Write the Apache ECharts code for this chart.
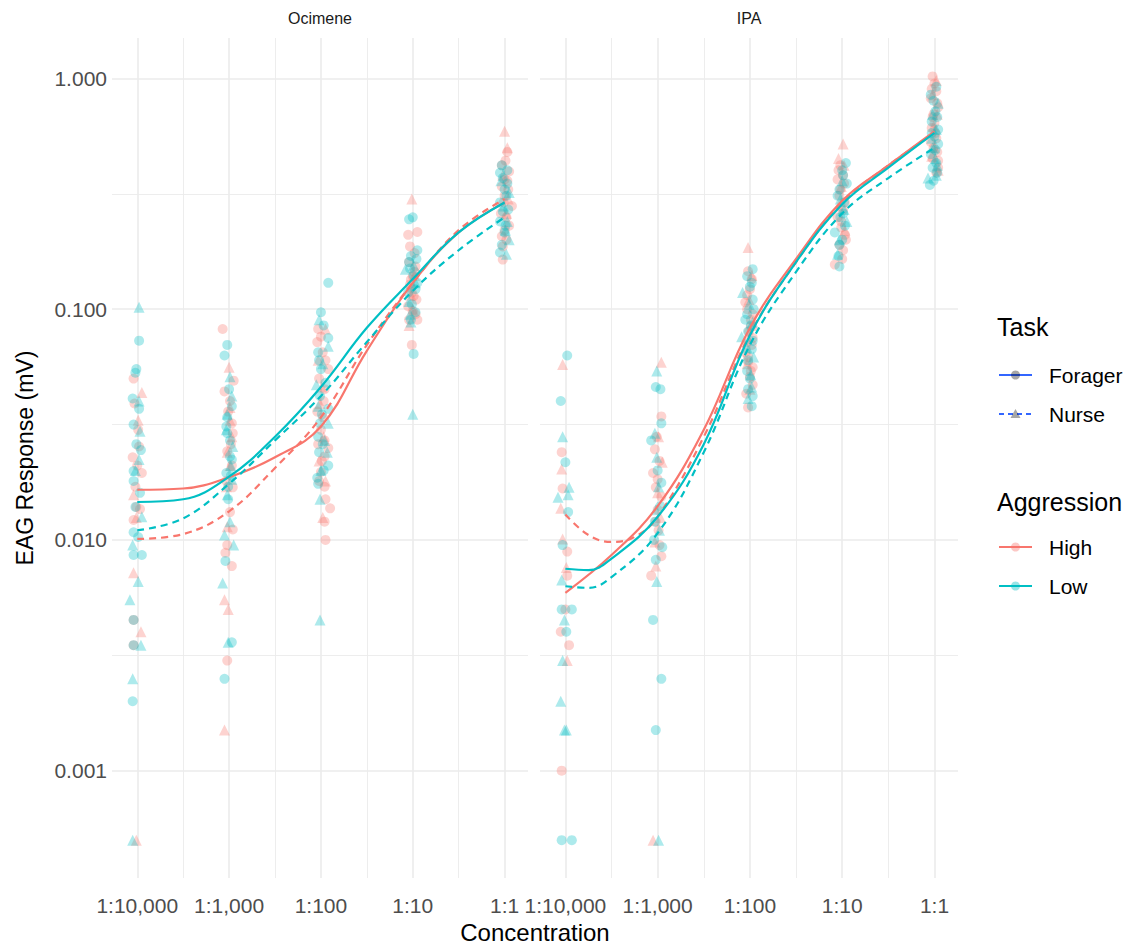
<!DOCTYPE html>
<html><head><meta charset="utf-8">
<script src="https://cdn.jsdelivr.net/npm/echarts@6/dist/echarts.min.js"></script>
<style>html,body{margin:0;padding:0;background:#fff}#c{width:1144px;height:946px}</style>
</head><body><div id="c"></div>
<script>
// ---- data ----
const CONC_LOG = [-4, -3, -2, -1, 0];
const CONC_LABELS = ['1:10,000', '1:1,000', '1:100', '1:10', '1:1'];
const CONC_MINOR = [-3.5, -2.5, -1.5, -0.5];
const Y_TICKS = [0.001, 0.01, 0.1, 1];
const Y_MINOR = [0.00316, 0.0316, 0.316];
const PANELS = ['Ocimene', 'IPA'];

// points: [log10 concentration (jittered), EAG response mV]
const ocHF = [[-4.04,0.050],[-4.03,0.039],[-3.98,0.0254],[-4.05,0.0228],[-4.00,0.021],[-3.95,0.0195],[-4.01,0.0139],[-3.97,0.0136],[-4.04,0.0122],[-4.04,0.0045],[-4.04,0.0035],[-3.99,0.03],[-4.02,0.017],
[-3.07,0.082],[-2.95,0.049],[-3.05,0.044],[-2.97,0.032],[-2.96,0.029],[-3.02,0.0242],[-2.96,0.0169],[-2.99,0.0132],[-2.96,0.0111],[-3.02,0.0095],[-3.04,0.0088],[-2.97,0.0077],[-3.02,0.0030],[-2.99,0.040],[-2.98,0.026],[-3.01,0.036],[-2.97,0.021],[-3.03,0.018],
[-2.03,0.082],[-2.00,0.076],[-2.04,0.072],[-1.95,0.060],[-1.92,0.055],[-1.96,0.045],[-1.98,0.034],[-2.00,0.030],[-1.96,0.027],[-2.03,0.026],[-1.92,0.025],[-1.96,0.023],[-2.00,0.0197],[-1.96,0.017],[-1.95,0.015],[-1.90,0.0137],[-1.96,0.012],[-1.95,0.010],[-1.98,0.065],[-2.02,0.05],[-1.97,0.04],[-2.04,0.036],[-1.99,0.022],[-2.02,0.018],
[-1.05,0.21],[-0.95,0.216],[-1.03,0.187],[-0.97,0.153],[-1.00,0.139],[-1.02,0.124],[-0.99,0.114],[-1.05,0.103],[-0.95,0.090],[-1.04,0.090],[-1.01,0.070],[-1.02,0.134],[-0.98,0.145],[-1.03,0.128],[-0.96,0.11],[-1.00,0.098],[-1.04,0.16],[-0.98,0.175],[-1.01,0.118],[-0.97,0.095],
[0.03,0.48],[0.05,0.395],[0.00,0.365],[-0.03,0.34],[0.00,0.31],[0.08,0.28],[0.02,0.25],[0.05,0.23],[-0.03,0.207],[-0.02,0.187],[-0.02,0.164],[0.01,0.44],[-0.04,0.26],[0.04,0.33],[0.02,0.20],[-0.01,0.29],[0.03,0.36],[0.00,0.22],[-0.03,0.42]];
const ocHN = [[-3.95,0.0435],[-3.99,0.033],[-4.04,0.0157],[-4.04,0.0072],[-3.96,0.0040],[-4.01,0.0005],[-4.01,0.0125],
[-3.00,0.056],[-2.99,0.0375],[-2.99,0.021],[-3.02,0.0114],[-3.05,0.0055],[-3.01,0.0050],[-3.05,0.0015],[-2.97,0.028],[-3.03,0.017],[-2.99,0.033],[-3.02,0.024],
[-1.95,0.082],[-2.01,0.039],[-1.95,0.018],[-1.98,0.0125],[-2.03,0.06],[-1.99,0.046],[-1.97,0.028],[-2.02,0.022],
[-1.01,0.30],[-1.00,0.10],[-1.02,0.115],[-0.98,0.14],[-1.04,0.085],
[0.00,0.59],[0.03,0.50],[0.04,0.30],[-0.02,0.38],[0.02,0.26]];
const ocLF = [[-3.98,0.073],[-4.01,0.055],[-4.02,0.053],[-4.05,0.041],[-4.04,0.0316],[-3.96,0.0245],[-4.04,0.0199],[-4.04,0.018],[-4.02,0.0139],[-4.04,0.0108],[-3.99,0.0103],[-4.04,0.0086],[-3.95,0.0086],[-4.04,0.0045],[-4.04,0.0035],[-4.05,0.0020],[-3.98,0.037],[-4.01,0.026],[-3.97,0.016],
[-3.02,0.070],[-3.05,0.063],[-3.02,0.034],[-3.03,0.031],[-2.99,0.027],[-2.97,0.0223],[-3.03,0.0195],[-3.01,0.015],[-3.04,0.0081],[-2.97,0.0036],[-3.05,0.0025],[-3.00,0.045],[-2.98,0.019],[-2.97,0.038],[-3.02,0.029],[-2.99,0.023],[-3.01,0.017],
[-1.92,0.13],[-2.00,0.097],[-1.92,0.075],[-2.03,0.065],[-2.00,0.055],[-2.01,0.042],[-1.92,0.037],[-2.01,0.032],[-2.03,0.028],[-1.98,0.026],[-1.92,0.021],[-2.04,0.0186],[-2.03,0.0175],[-1.97,0.085],[-2.02,0.06],[-1.95,0.048],[-1.99,0.035],[-2.02,0.024],[-1.97,0.02],
[-1.00,0.25],[-1.04,0.245],[-0.95,0.18],[-1.04,0.16],[-0.95,0.13],[-1.05,0.118],[-0.97,0.097],[-0.99,0.064],[-1.02,0.17],[-0.99,0.14],[-1.03,0.15],[-0.97,0.122],[-1.01,0.105],[-0.96,0.165],[-1.02,0.09],
[-0.03,0.42],[-0.05,0.39],[0.03,0.35],[-0.05,0.29],[-0.02,0.265],[-0.05,0.24],[0.00,0.215],[-0.05,0.176],[0.02,0.31],[-0.02,0.37],[0.04,0.27],[0.01,0.23],[-0.03,0.19],[0.03,0.40],[0.00,0.33]];
const ocLN = [[-3.98,0.102],[-3.97,0.0296],[-3.98,0.0223],[-3.95,0.0126],[-4.05,0.0095],[-3.99,0.0066],[-4.08,0.0055],[-3.96,0.0035],[-4.05,0.0025],[-4.05,0.0005],[-4.02,0.02],[-3.98,0.04],
[-2.99,0.051],[-2.97,0.042],[-2.96,0.0254],[-2.97,0.0183],[-3.02,0.0157],[-3.05,0.0105],[-2.95,0.0095],[-3.07,0.0065],[-3.01,0.0036],[-3.02,0.035],[-2.99,0.012],[-3.03,0.03],[-2.98,0.021],
[-2.02,0.090],[-1.92,0.069],[-2.05,0.047],[-1.92,0.032],[-1.93,0.024],[-2.01,0.015],[-2.01,0.0045],[-1.98,0.058],[-2.03,0.038],[-1.96,0.027],[-2.00,0.02],
[-1.08,0.149],[-1.04,0.108],[-1.02,0.088],[-1.00,0.035],[-0.97,0.13],[-1.03,0.095],[-0.99,0.155],
[0.05,0.32],[0.05,0.20],[0.02,0.173],[-0.01,0.28],[0.03,0.24],[-0.04,0.36],[0.01,0.22]];
const ipHF = [[-4.04,0.024],[-4.03,0.0167],[-3.98,0.0089],[-3.98,0.0070],[-4.00,0.0050],[-4.05,0.0040],[-3.96,0.0035],[-4.04,0.0010],
[-2.96,0.0343],[-3.03,0.0247],[-3.05,0.0195],[-3.00,0.0183],[-3.02,0.0169],[-2.96,0.0154],[-3.00,0.0135],[-2.98,0.0095],[-2.96,0.0085],[-3.07,0.0070],[-3.01,0.028],[-2.98,0.022],[-3.02,0.012],[-2.99,0.011],
[-2.02,0.146],[-2.00,0.122],[-2.05,0.107],[-1.97,0.095],[-1.99,0.084],[-1.97,0.075],[-2.05,0.065],[-2.02,0.059],[-1.97,0.056],[-2.00,0.051],[-2.02,0.0375],[-2.03,0.10],[-2.03,0.072],[-1.98,0.135],[-2.03,0.115],[-1.99,0.09],[-2.01,0.08],[-1.98,0.07],[-2.02,0.062],[-1.97,0.047],[-2.04,0.043],[-1.99,0.054],
[-1.04,0.40],[-1.05,0.365],[-1.02,0.33],[-0.97,0.29],[-1.05,0.25],[-1.01,0.226],[-0.96,0.20],[-0.99,0.18],[-1.08,0.156],[-0.99,0.38],[-1.02,0.42],[-0.98,0.35],[-1.03,0.31],[-0.99,0.27],[-1.01,0.24],[-0.97,0.21],[-1.03,0.19],[-1.00,0.165],
[-0.02,1.02],[0.02,0.88],[-0.04,0.82],[0.04,0.75],[-0.01,0.70],[0.01,0.58],[-0.04,0.53],[0.03,0.48],[-0.02,0.45],[0.04,0.41],[0.02,0.39],[-0.02,0.68],[0.00,0.95],[-0.03,0.90],[0.03,0.78],[0.00,0.64],[-0.03,0.61],[0.02,0.55],[-0.01,0.50],[0.04,0.44]];
const ipHN = [[-4.03,0.0575],[-4.04,0.0203],[-4.05,0.0137],[-4.03,0.0101],[-3.99,0.0076],[-3.98,0.0030],
[-2.96,0.0588],[-2.99,0.028],[-2.95,0.0217],[-3.02,0.0077],[-3.05,0.0005],[-3.00,0.016],[-2.97,0.0125],[-3.03,0.0098],
[-2.02,0.185],[-1.98,0.14],[-2.01,0.11],[-1.96,0.085],[-2.03,0.058],[-2.00,0.045],
[-0.99,0.52],[-1.04,0.45],[-1.04,0.28],[-0.98,0.42],[-1.01,0.34],[-0.97,0.22],
[0.02,0.98],[-0.01,0.62],[0.04,0.40],[-0.02,0.85],[0.03,0.70],[0.00,0.50],[-0.03,0.46]];
const ipLF = [[-3.98,0.063],[-4.05,0.040],[-4.00,0.0217],[-3.97,0.0132],[-4.03,0.0095],[-4.04,0.0050],[-3.93,0.0050],[-3.99,0.0040],[-4.04,0.0005],[-3.93,0.0005],
[-3.02,0.046],[-2.97,0.045],[-2.96,0.032],[-3.07,0.027],[-2.96,0.0177],[-3.04,0.010],[-2.95,0.0093],[-3.02,0.0082],[-3.05,0.0045],[-2.96,0.0025],[-3.02,0.0015],[-3.00,0.02],[-2.97,0.014],[-3.03,0.012],
[-1.97,0.149],[-2.03,0.139],[-1.97,0.11],[-2.05,0.09],[-2.02,0.080],[-1.98,0.067],[-2.03,0.054],[-2.02,0.045],[-1.98,0.038],[-1.98,0.13],[-2.00,0.125],[-1.96,0.10],[-2.03,0.095],[-1.99,0.085],[-1.97,0.073],[-2.02,0.06],[-2.00,0.05],[-1.97,0.042],
[-0.96,0.43],[-0.95,0.35],[-1.05,0.31],[-0.99,0.26],[-1.08,0.215],[-1.03,0.19],[-1.03,0.153],[-0.99,0.38],[-1.00,0.40],[-1.03,0.33],[-0.98,0.29],[-1.02,0.25],[-0.97,0.23],[-1.00,0.20],[-1.04,0.17],
[-0.04,0.85],[0.01,0.72],[-0.03,0.65],[0.04,0.60],[0.00,0.56],[-0.04,0.47],[0.02,0.43],[-0.01,0.36],[-0.05,0.345],[0.04,0.52],[0.02,0.92],[-0.01,0.80],[0.03,0.68],[-0.03,0.58],[0.01,0.49],[-0.02,0.41],[0.03,0.39]];
const ipLN = [[-4.03,0.028],[-3.96,0.0169],[-3.97,0.0157],[-4.08,0.0153],[-4.04,0.0067],[-4.01,0.0045],[-4.03,0.0030],[-4.05,0.0020],[-3.99,0.0015],[-4.01,0.0015],
[-3.01,0.054],[-3.03,0.029],[-3.01,0.0228],[-2.98,0.011],[-3.01,0.0066],[-2.99,0.0005],[-2.99,0.017],[-3.02,0.0135],
[-2.08,0.118],[-2.09,0.076],[-1.96,0.062],[-1.98,0.046],[-2.01,0.105],[-1.97,0.088],[-2.03,0.068],[-1.99,0.052],[-2.02,0.041],
[-0.95,0.24],[-1.05,0.173],[-1.00,0.36],[-1.02,0.30],[-0.98,0.27],[-1.03,0.20],
[0.04,0.78],[-0.02,0.50],[-0.07,0.37],[0.02,0.38],[-0.02,0.70],[0.02,0.60],[-0.03,0.55],[0.01,0.45],[0.03,0.42]];

// smooth fits: [log10 concentration, fitted response]
const ocFitHF = [[-4,0.0165],[-3.5,0.0167],[-3,0.0187],[-2.5,0.0228],[-2,0.031],[-1.5,0.066],[-1,0.13],[-0.5,0.215],[0,0.29]];
const ocFitHN = [[-4,0.0101],[-3.5,0.0106],[-3,0.0133],[-2.5,0.0205],[-2,0.034],[-1.5,0.07],[-1,0.13],[-0.5,0.22],[0,0.30]];
const ocFitLF = [[-4,0.0146],[-3.5,0.015],[-3,0.0188],[-2.5,0.028],[-2,0.046],[-1.5,0.083],[-1,0.135],[-0.5,0.215],[0,0.29]];
const ocFitLN = [[-4,0.011],[-3.5,0.0124],[-3,0.0175],[-2.5,0.027],[-2,0.042],[-1.5,0.072],[-1,0.12],[-0.5,0.18],[0,0.25]];
const ipFitHF = [[-4,0.0059],[-3.5,0.0086],[-3,0.014],[-2.5,0.030],[-2,0.083],[-1.5,0.165],[-1,0.295],[-0.5,0.42],[0,0.59]];
const ipFitHN = [[-4,0.0129],[-3.75,0.0105],[-3.5,0.0098],[-3.25,0.0103],[-3,0.0126],[-2.5,0.028],[-2,0.078],[-1.5,0.16],[-1,0.29],[-0.5,0.42],[0,0.58]];
const ipFitLF = [[-4,0.0075],[-3.75,0.0074],[-3.5,0.0083],[-3,0.0126],[-2.5,0.026],[-2,0.077],[-1.5,0.16],[-1,0.285],[-0.5,0.41],[0,0.58]];
const ipFitLN = [[-4,0.0063],[-3.75,0.0062],[-3.5,0.0069],[-3,0.0107],[-2.5,0.024],[-2,0.07],[-1.5,0.145],[-1,0.26],[-0.5,0.37],[0,0.50]];

// ---- chart ----
const HIGH = '#F8766D', LOW = '#00BFC4', TASKC = '#3366FF';
const FONT = '"Liberation Sans", Arial, sans-serif';
const GRID_C = '#EBEBEB';
const X_MIN = -4.275, X_MAX = 0.255;
const Y_MIN = Math.pow(10, -3.465), Y_MAX = Math.pow(10, 0.175);

function rgba(hex, a) {
  const n = parseInt(hex.slice(1), 16);
  return 'rgba(' + (n >> 16) + ',' + ((n >> 8) & 255) + ',' + (n & 255) + ',' + a + ')';
}

const grids = [
  {left: 112, top: 38, width: 416, height: 840},
  {left: 540, top: 38, width: 418, height: 840}
];
const xAxes = [], yAxes = [];
[0, 1].forEach(g => {
  xAxes.push({
    type: 'value', gridIndex: g, min: X_MIN, max: X_MAX,
    axisLine: {show: false},
    axisTick: {show: false, customValues: CONC_LOG},
    axisLabel: {customValues: CONC_LOG, margin: 17, color: '#4d4d4d', fontSize: 21, fontFamily: FONT,
      formatter: v => CONC_LABELS[CONC_LOG.indexOf(Math.round(v))] || ''},
    splitLine: {show: true, lineStyle: {color: GRID_C, width: 1.6}}
  });
  xAxes.push({
    type: 'value', gridIndex: g, min: X_MIN, max: X_MAX,
    axisLine: {show: false},
    axisTick: {show: false, customValues: CONC_MINOR},
    axisLabel: {show: false, customValues: CONC_MINOR},
    splitLine: {show: true, lineStyle: {color: GRID_C, width: 0.9}}
  });
  yAxes.push({
    type: 'log', logBase: 10, gridIndex: g, min: Y_MIN, max: Y_MAX,
    axisLine: {show: false},
    axisTick: {show: false, customValues: Y_TICKS},
    axisLabel: {show: g === 0, customValues: Y_TICKS, margin: 5, color: '#4d4d4d', fontSize: 21, fontFamily: FONT,
      formatter: v => Number(v).toFixed(3)},
    splitLine: {show: true, lineStyle: {color: GRID_C, width: 1.6}}
  });
  yAxes.push({
    type: 'log', logBase: 10, gridIndex: g, min: Y_MIN, max: Y_MAX,
    axisLine: {show: false},
    axisTick: {show: false, customValues: Y_MINOR},
    axisLabel: {show: false, customValues: Y_MINOR},
    splitLine: {show: true, lineStyle: {color: GRID_C, width: 0.9}}
  });
});

const panelData = [
  {pts: [[ocHF, HIGH, 'circle'], [ocHN, HIGH, 'triangle'], [ocLF, LOW, 'circle'], [ocLN, LOW, 'triangle']],
   fits: [[ocFitHF, HIGH, false], [ocFitHN, HIGH, true], [ocFitLF, LOW, false], [ocFitLN, LOW, true]]},
  {pts: [[ipHF, HIGH, 'circle'], [ipHN, HIGH, 'triangle'], [ipLF, LOW, 'circle'], [ipLN, LOW, 'triangle']],
   fits: [[ipFitHF, HIGH, false], [ipFitHN, HIGH, true], [ipFitLF, LOW, false], [ipFitLN, LOW, true]]}
];
const series = [];
panelData.forEach((p, g) => {
  p.pts.forEach(([data, col, sym]) => {
    series.push({
      type: 'scatter', xAxisIndex: g * 2, yAxisIndex: g * 2, data: data,
      symbol: sym, symbolSize: sym === 'circle' ? 10 : 11,
      itemStyle: {color: rgba(col, 0.4)}, silent: true, z: 2
    });
  });
  p.fits.forEach(([data, col, dashed]) => {
    series.push({
      type: 'line', xAxisIndex: g * 2, yAxisIndex: g * 2, data: data,
      showSymbol: false, smooth: 0.4, silent: true, z: 3,
      lineStyle: {color: col, width: 2.2, type: dashed ? [7, 5] : 'solid'}
    });
  });
});

const graphic = [];
function txt(x, y, text, size, opts) {
  graphic.push(Object.assign({type: 'text', x: x, y: y, silent: true,
    style: Object.assign({text: text, fontSize: size, fontFamily: FONT, fill: '#000',
      align: 'center', verticalAlign: 'middle', textAlign: 'center', textVerticalAlign: 'middle'}, (opts && opts.style) || {})},
    (opts && opts.el) || {}));
}
// strip labels
txt(320, 18, PANELS[0], 16, {style: {fill: '#1a1a1a'}});
txt(749, 18, PANELS[1], 16, {style: {fill: '#1a1a1a'}});
// axis titles
txt(535, 932, 'Concentration', 24);
txt(25, 458, 'EAG Response (mV)', 23, {el: {rotation: Math.PI / 2}});
// legend
const KX1 = 999, KX2 = 1032, KC = 1015.5, LX = 1049;
txt(997, 327, 'Task', 25, {style: {align: 'left', textAlign: 'left'}});
txt(997, 502, 'Aggression', 25, {style: {align: 'left', textAlign: 'left'}});
const legendItems = [
  {y: 375, label: 'Forager', col: TASKC, dash: false, sym: 'circle', pcol: 'rgba(0,0,0,0.35)'},
  {y: 414, label: 'Nurse', col: TASKC, dash: true, sym: 'triangle', pcol: 'rgba(0,0,0,0.35)'},
  {y: 547, label: 'High', col: HIGH, dash: false, sym: 'circle', pcol: rgba(HIGH, 0.4)},
  {y: 586, label: 'Low', col: LOW, dash: false, sym: 'circle', pcol: rgba(LOW, 0.4)}
];
legendItems.forEach(it => {
  graphic.push({type: 'line', silent: true, shape: {x1: KX1, y1: it.y, x2: KX2, y2: it.y},
    style: {stroke: it.col, lineWidth: 2.2, lineDash: it.dash ? [5, 4] : null}});
  if (it.sym === 'circle') {
    graphic.push({type: 'circle', silent: true, shape: {cx: KC, cy: it.y, r: 4.5}, style: {fill: it.pcol}});
  } else {
    graphic.push({type: 'polygon', silent: true, shape: {points: [[KC, it.y - 5], [KC - 5, it.y + 4], [KC + 5, it.y + 4]]}, style: {fill: it.pcol}});
  }
  txt(LX, it.y, it.label, 21, {style: {align: 'left', textAlign: 'left'}});
});

const chart = echarts.init(document.getElementById('c'), null, {renderer: 'svg'});
chart.setOption({
  animation: false,
  backgroundColor: '#fff',
  grid: grids,
  xAxis: xAxes,
  yAxis: yAxes,
  series: series,
  graphic: graphic
});
</script>
</body></html>
